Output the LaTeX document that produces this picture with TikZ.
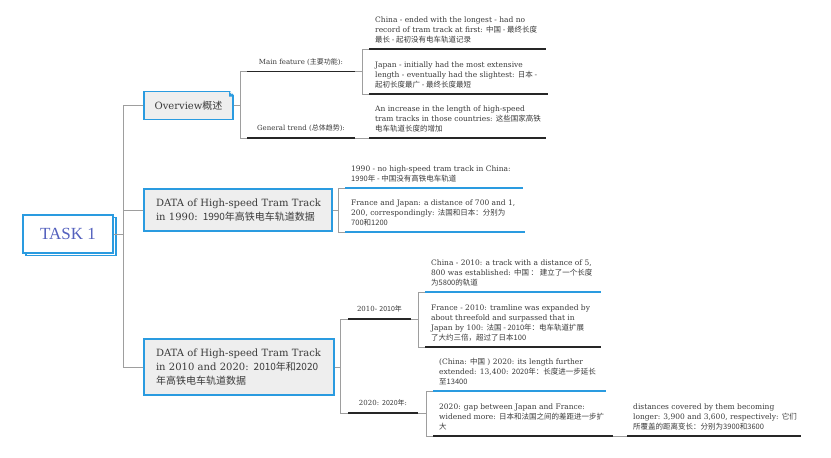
\documentclass[tikz,border=0pt]{standalone}
\usepackage{fontspec}
\setmainfont{DejaVu Serif}
\newfontfamily\cjk{Noto Sans CJK SC}
\newfontfamily\taskfont{Liberation Serif}
\newcommand\zh[1]{{\cjk #1}}
\newcommand\lineT[1]{\mbox{#1}}
\newcommand\dpstrut{\rule[-2pt]{0pt}{2pt}}
\definecolor{tblue}{HTML}{2A9BE0}
\definecolor{boxgray}{HTML}{EEEEEE}
\definecolor{linegray}{HTML}{9E9E9E}
\definecolor{ink}{HTML}{262626}
\definecolor{txt}{HTML}{3A3A3A}
\definecolor{taskc}{HTML}{5461BE}
\begin{document}
\begin{tikzpicture}[x=1pt,y=-1pt,
  conn/.style={draw=linegray, line width=0.9pt},
  ul/.style={draw=ink, line width=1.6pt},
  ulb/.style={draw=tblue, line width=1.6pt},
  leaf/.style={anchor=south west, inner xsep=6pt, inner ysep=4.5pt, align=left, text=txt, font=\fontsize{7.5}{10}\selectfont},
  lab/.style={anchor=south, inner xsep=0pt, inner ysep=4.5pt, text=txt, font=\fontsize{7}{10}\selectfont},
  mainbox/.style={draw=tblue, line width=1.4pt, fill=boxgray, text=txt, font=\fontsize{10}{14}\selectfont, inner sep=0pt},
  taskbox/.style={draw=tblue, line width=1.4pt, fill=white, minimum width=90pt, minimum height=38pt, inner sep=0pt}
]
\useasboundingbox[fill=white] (0,0) rectangle (831,458);

% ---------- root ----------
\node[taskbox] (taskback) at (71,236.5) {};
\node[taskbox, text=taskc, font=\taskfont\fontsize{17}{20}\selectfont] (task) at (68,234) {TASK 1};

% ---------- level 1 ----------
\node[mainbox, minimum width=89pt, minimum height=28pt] (ov) at (188.5,105.5) {Overview\zh{概述}};
\fill[tblue] (229,91.5) -- (233.7,96.5) -- (229,96.5) -- cycle;
\fill[white] (229.6,90.5) -- (234.5,90.5) -- (234.5,95.6) -- cycle;

\node[mainbox, minimum width=188pt, minimum height=42pt, text width=164pt, align=left] (d90) at (238,210)
  {\lineT{DATA of High-speed Tram Track}\\\lineT{in 1990: \zh{1990年高铁电车轨道数据}}};

\node[mainbox, minimum width=190pt, minimum height=56pt, text width=166pt, align=left] (d10) at (239,367)
  {\lineT{DATA of High-speed Tram Track}\\\lineT{in 2010 and 2020: \zh{2010年和2020}}\\\lineT{\zh{年高铁电车轨道数据}}};

\draw[conn] (task.east) -- ++(10,0) coordinate (tj);
\draw[conn] (ov.west) -| (tj);
\draw[conn] (d90.west) -| (tj);
\draw[conn] (d10.west) -| (tj);

% ---------- Overview branch ----------
\coordinate (mfa) at (247,71.5); \coordinate (mfb) at (355,71.5);
\coordinate (gta) at (247,138); \coordinate (gtb) at (355,138);
\draw[conn] (ov.east) -- ++(7,0) coordinate (oj);
\draw[conn] (mfa) -| (oj);
\draw[conn] (gta) -| (oj);
\draw[ul] (mfa) -- (mfb) node[lab, midway] (mf) {Main feature (\zh{主要功能}):\dpstrut};
\draw[ul] (gta) -- (gtb) node[lab, midway] (gt) {General trend (\zh{总体趋势}):\dpstrut};

\coordinate (c1a) at (369,49); \coordinate (c1b) at (546,49);
\coordinate (c2a) at (369,94); \coordinate (c2b) at (548,94);
\coordinate (c3a) at (369,138); \coordinate (c3b) at (546,138);
\draw[conn] (mfb) -- ++(7,0) coordinate (mfj);
\draw[conn] (c1a) -| (mfj);
\draw[conn] (c2a) -| (mfj);
\draw[conn] (gtb) -- (c3a);
\node[leaf] (t1) at (c1a) {\lineT{China - ended with the longest - had no}\\\lineT{record of tram track at first: \zh{中国 - 最终长度}}\\\lineT{\zh{最长 - 起初没有电车轨道记录}}\dpstrut};
\draw[ul] (c1a) -- (c1b);
\node[leaf] (t2) at (c2a) {\lineT{Japan - initially had the most extensive}\\\lineT{length - eventually had the slightest: \zh{日本 -}}\\\lineT{\zh{起初长度最广 - 最终长度最短}}\dpstrut};
\draw[ul] (c2a) -- (c2b);
\node[leaf] (t3) at (c3a) {\lineT{An increase in the length of high-speed}\\\lineT{tram tracks in those countries: \zh{这些国家高铁}}\\\lineT{\zh{电车轨道长度的增加}}\dpstrut};
\draw[ul] (c3a) -- (c3b);

% ---------- 1990 branch ----------
\coordinate (c4a) at (345,188); \coordinate (c4b) at (523,188);
\coordinate (c5a) at (345,232); \coordinate (c5b) at (525,232);
\draw[conn] (d90.east) -- ++(6,0) coordinate (d90j);
\draw[conn] (c4a) -| (d90j);
\draw[conn] (c5a) -| (d90j);
\node[leaf] (t4) at (c4a) {\lineT{1990 - no high-speed tram track in China:}\\\lineT{\zh{1990年 - 中国没有高铁电车轨道}}\dpstrut};
\draw[ulb] (c4a) -- (c4b);
\node[leaf] (t5) at (c5a) {\lineT{France and Japan: a distance of 700 and 1,}\\\lineT{200, correspondingly: \zh{法国和日本：分别为}}\\\lineT{\zh{700和1200}}\dpstrut};
\draw[ulb] (c5a) -- (c5b);

% ---------- 2010/2020 branch ----------
\coordinate (l10a) at (348,319); \coordinate (l10b) at (411,319);
\coordinate (l20a) at (348,413); \coordinate (l20b) at (418,413);
\draw[conn] (d10.east) -- ++(6,0) coordinate (d10j);
\draw[conn] (l10a) -| (d10j);
\draw[conn] (l20a) -| (d10j);
\draw[ul] (l10a) -- (l10b) node[lab, midway] (l10) {2010- \zh{2010年}\dpstrut};
\draw[ul] (l20a) -- (l20b) node[lab, midway] (l20) {2020: \zh{2020年}:\dpstrut};

\coordinate (c6a) at (425,292); \coordinate (c6b) at (601,292);
\coordinate (c7a) at (425,347); \coordinate (c7b) at (601,347);
\draw[conn] (l10b) -- ++(7,0) coordinate (l10j);
\draw[conn] (c6a) -| (l10j);
\draw[conn] (c7a) -| (l10j);
\node[leaf] (t6) at (c6a) {\lineT{China - 2010: a track with a distance of 5,}\\\lineT{800 was established: \zh{中国 ： 建立了一个长度}}\\\lineT{\zh{为5800的轨道}}\dpstrut};
\draw[ulb] (c6a) -- (c6b);
\node[leaf] (t7) at (c7a) {\lineT{France - 2010: tramline was expanded by}\\\lineT{about threefold and surpassed that in}\\\lineT{Japan by 100: \zh{法国 - 2010年：电车轨道扩展}}\\\lineT{\zh{了大约三倍，超过了日本100}}\dpstrut};
\draw[ul] (c7a) -- (c7b);

\coordinate (c8a) at (433,391); \coordinate (c8b) at (606,391);
\coordinate (c9a) at (433,436); \coordinate (c9b) at (613,436);
\coordinate (c10a) at (627,436); \coordinate (c10b) at (801,436);
\draw[conn] (l20b) -- ++(8,0) coordinate (l20j);
\draw[conn] (c8a) -| (l20j);
\draw[conn] (c9a) -| (l20j);
\draw[conn] (c9b) -- (c10a);
\node[leaf] (t8) at (c8a) {\lineT{(China: \zh{中国} ) 2020: its length further}\\\lineT{extended: 13,400: \zh{2020年：长度进一步延长}}\\\lineT{\zh{至13400}}\dpstrut};
\draw[ulb] (c8a) -- (c8b);
\node[leaf] (t9) at (c9a) {\lineT{2020: gap between Japan and France:}\\\lineT{widened more: \zh{日本和法国之间的差距进一步扩}}\\\lineT{\zh{大}}\dpstrut};
\draw[ul] (c9a) -- (c9b);
\node[leaf] (t10) at (c10a) {\lineT{distances covered by them becoming}\\\lineT{longer: 3,900 and 3,600, respectively: \zh{它们}}\\\lineT{\zh{所覆盖的距离变长：分别为3900和3600}}\dpstrut};
\draw[ul] (c10a) -- (c10b);
\end{tikzpicture}
\end{document}
